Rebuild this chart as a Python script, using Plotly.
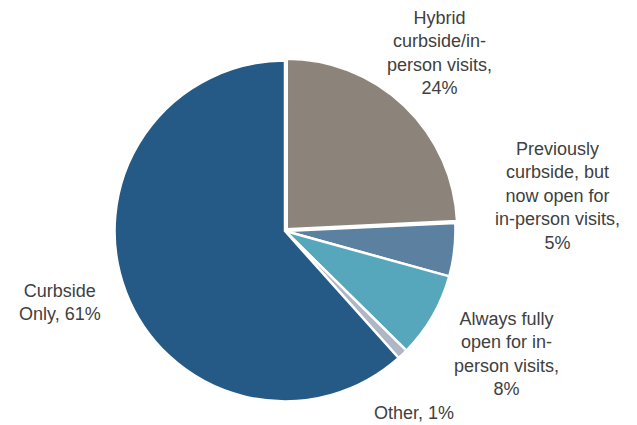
import plotly.graph_objects as go

labels = ["Hybrid curbside/in-person visits", "Previously curbside, but now open for in-person visits",
          "Always fully open for in-person visits", "Other", "Curbside Only"]
values = [24, 5, 8, 1, 61]
colors = ["#8C847A", "#5B80A0", "#56A6BC", "#AFB6C6", "#255A87"]
label_texts = ["Hybrid<br>curbside/in-<br>person visits,<br>24%",
               "Previously<br>curbside, but<br>now open for<br>in-person visits,<br>5%",
               "Always fully<br>open for in-<br>person visits,<br>8%",
               "Other, 1%",
               "Curbside<br>Only, 61%"]
label_pos = [(439, 53), (557, 196), (506, 354), (414, 413), (60, 302)]

W, H = 637, 425
cx, cy, r = 285, 231, 173

fig = go.Figure(go.Pie(
    labels=labels, values=values, sort=False, direction="clockwise", rotation=0,
    marker=dict(colors=colors, line=dict(color="white", width=2.5)),
    textinfo="none", hoverinfo="label+percent", showlegend=False,
    pull=[0.015, 0, 0, 0, 0],
    domain=dict(x=[(cx - r) / W, (cx + r) / W], y=[(H - cy - r) / H, (H - cy + r) / H]),
))

for t, (x, y) in zip(label_texts, label_pos):
    fig.add_annotation(x=x / W, y=1 - y / H, xref="paper", yref="paper", text=t,
                       showarrow=False, xanchor="center", yanchor="middle", align="center",
                       font=dict(family="Liberation Sans, Arial, sans-serif", size=18, color="#404040"))

fig.update_layout(width=W, height=H, margin=dict(l=0, r=0, t=0, b=0),
                  paper_bgcolor="white", plot_bgcolor="white")
fig.write_html("out.html", config={"displayModeBar": False},
               post_script="document.body.style.margin='0';document.body.style.overflow='hidden';")
